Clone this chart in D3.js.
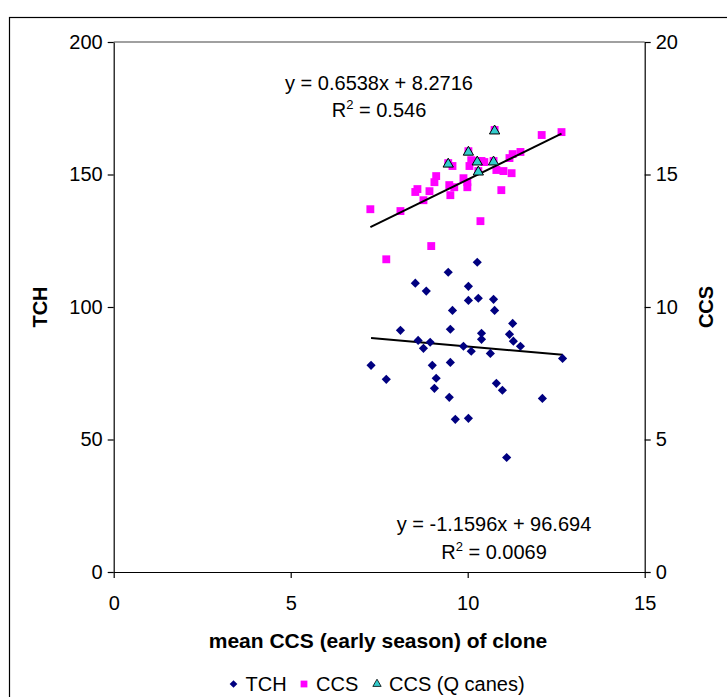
<!DOCTYPE html>
<html>
<head>
<meta charset="utf-8">
<script src="https://cdn.jsdelivr.net/npm/d3@7"></script>
<style>
  html, body { margin: 0; padding: 0; background: #fff; }
  svg { display: block; font-family: Arial, "Liberation Sans", sans-serif; }
</style>
</head>
<body>
<svg id="chart" width="727" height="697"></svg>
<script>
// Mean early-season CCS of each clone (x) against TCH (left axis) and CCS (right axis)
const tchX = [10.27, 9.45, 8.52, 8.83, 10.02, 10.02, 10.30, 10.73, 9.57, 10.76,
              11.27, 8.10, 9.51, 10.39, 10.39, 11.18, 11.29, 11.49, 8.60, 8.94,
              8.75, 9.88, 10.10, 10.64, 12.68, 7.27, 9.00, 9.51, 7.70, 9.11,
              9.06, 10.81, 10.98, 9.48, 12.11, 9.65, 10.02, 11.10];
const tchY = [116.9, 113.1, 109.0, 106.0, 107.8, 102.5, 103.3, 102.9, 98.7, 98.7,
              93.8, 91.2, 91.6, 90.1, 87.8, 89.7, 87.1, 85.2, 87.4, 86.7,
              84.4, 85.2, 83.3, 82.5, 80.6, 78.0, 78.0, 79.1, 72.7, 73.1,
              69.3, 71.2, 68.6, 65.9, 65.5, 57.6, 58.0, 43.2];

const ccsX = [7.25, 8.10, 8.58, 8.52, 8.75, 8.92, 9.11, 9.06, 9.48, 9.62,
              9.51, 9.88, 9.99, 9.99, 9.57, 10.05, 10.10, 10.39, 10.47, 10.81,
              11.01, 11.24, 10.95, 10.36, 11.27, 11.49, 11.18, 12.09, 12.65, 8.97,
              7.70, 10.02, 10.76, 9.45, 10.27, 10.30, 10.73];
const ccsY = [13.69, 13.62, 14.45, 14.34, 14.03, 14.37, 14.94, 14.71, 14.60, 14.52,
              14.22, 14.86, 14.71, 14.52, 15.32, 15.32, 15.54, 15.51, 15.47, 15.17,
              15.13, 15.05, 14.41, 13.24, 15.77, 15.85, 15.62, 16.49, 16.60, 12.30,
              11.80, 15.88, 16.68, 15.43, 15.51, 15.13, 15.51];

const qX = [9.45, 10.02, 10.27, 10.30, 10.73, 10.76];
const qY = [15.43, 15.88, 15.51, 15.13, 15.51, 16.68];

// Linear trend coefficients [slope, intercept] and their R²
const tchFit = [-1.1596, 96.694];
const tchR2 = "0.0069";
const ccsFit = [0.6538, 8.2716];
const ccsR2 = "0.546";

const xTicks = [0, 5, 10, 15];
const leftTicks = [0, 50, 100, 150, 200];
const rightTicks = [0, 5, 10, 15, 20];

const svg = d3.select("#chart");

const x = d3.scaleLinear().domain([0, 15]).range([113.7, 644.7]);
const yL = d3.scaleLinear().domain([0, 200]).range([572, 42]);
const yR = d3.scaleLinear().domain([0, 20]).range([572, 42]);

// Chart-area frame
svg.append("rect")
  .attr("x", 9.5).attr("y", 17.5)
  .attr("width", 760).attr("height", 720)
  .attr("fill", "#fff").attr("stroke", "#000").attr("stroke-width", 1.2);

// Plot-area frame (top edge)
svg.append("line")
  .attr("x1", x(0)).attr("x2", x(15))
  .attr("y1", yL(200)).attr("y2", yL(200))
  .attr("stroke", "#808080").attr("stroke-width", 1.5);

// Axes
const fontSize = 20;
const styleAxis = g => {
  g.select(".domain").attr("stroke", "#000").attr("stroke-width", 1.2);
  g.selectAll(".tick line").attr("stroke", "#000").attr("stroke-width", 1.2);
  g.selectAll(".tick text").attr("fill", "#000")
    .style("font-size", fontSize + "px")
    .style("font-family", "Arial, 'Liberation Sans', sans-serif");
};

svg.append("g")
  .attr("transform", `translate(0,${yL(0)})`)
  .call(d3.axisBottom(x).tickValues(xTicks).tickSize(6).tickSizeOuter(0).tickPadding(18))
  .call(styleAxis);

svg.append("g")
  .attr("transform", `translate(${x(0)},0)`)
  .call(d3.axisLeft(yL).tickValues(leftTicks).tickSize(6).tickSizeOuter(0).tickPadding(5))
  .call(styleAxis);

svg.append("g")
  .attr("transform", `translate(${x(15)},0)`)
  .call(d3.axisRight(yR).tickValues(rightTicks).tickSize(6).tickSizeOuter(0).tickPadding(5))
  .call(styleAxis);

// Axis titles
svg.append("text")
  .attr("x", 378).attr("y", 648)
  .attr("text-anchor", "middle")
  .style("font-size", "21px").style("font-weight", "bold")
  .text("mean CCS (early season) of clone");

svg.append("text")
  .attr("transform", `translate(47,307) rotate(-90)`)
  .attr("text-anchor", "middle")
  .style("font-size", "20px").style("font-weight", "bold")
  .text("TCH");

svg.append("text")
  .attr("transform", `translate(713,307) rotate(-90)`)
  .attr("text-anchor", "middle")
  .style("font-size", "20px").style("font-weight", "bold")
  .text("CCS");

// Trend lines over each series' x-range
const line = d3.line();
const tchExt = d3.extent(tchX);
svg.append("path")
  .attr("d", line(tchExt.map(v => [x(v), yL(tchFit[0] * v + tchFit[1])])))
  .attr("stroke", "#000").attr("stroke-width", 2).attr("fill", "none");

// Points
const diamond = d3.symbol().type(d3.symbolSquare).size(42)();
const square = d3.symbol().type(d3.symbolSquare).size(62)();
const triangle = d3.symbol().type(d3.symbolTriangle).size(46)();

svg.append("g").selectAll("path")
  .data(tchX.map((v, i) => [v, tchY[i]]))
  .join("path")
  .attr("d", diamond)
  .attr("transform", d => `translate(${x(d[0])},${yL(d[1])}) rotate(45)`)
  .attr("fill", "#000080");

svg.append("g").selectAll("path")
  .data(ccsX.map((v, i) => [v, ccsY[i]]))
  .join("path")
  .attr("d", square)
  .attr("transform", d => `translate(${x(d[0])},${yR(d[1])})`)
  .attr("fill", "#FF00FF");

const ccsExt = d3.extent(ccsX);
svg.append("path")
  .attr("d", line(ccsExt.map(v => [x(v), yR(ccsFit[0] * v + ccsFit[1])])))
  .attr("stroke", "#000").attr("stroke-width", 2).attr("fill", "none");

svg.append("g").selectAll("path")
  .data(qX.map((v, i) => [v, qY[i]]))
  .join("path")
  .attr("d", triangle)
  .attr("transform", d => `translate(${x(d[0])},${yR(d[1]) + 1})`)
  .attr("fill", "#33CCCC").attr("stroke", "#000").attr("stroke-width", 1);

// Trend-line equations, each block centred on one x
const eq = (cx, cy, fit, r2) => {
  const sign = fit[1] < 0 ? "-" : "+";
  svg.append("text")
    .attr("x", cx).attr("y", cy)
    .attr("text-anchor", "middle")
    .style("font-size", "20px")
    .text(`y = ${fit[0]}x ${sign} ${Math.abs(fit[1])}`);
  const t = svg.append("text")
    .attr("x", cx).attr("y", cy + 27.5)
    .attr("text-anchor", "middle")
    .style("font-size", "20px");
  t.append("tspan").text("R");
  t.append("tspan").attr("dy", -8).style("font-size", "13px").text("2");
  t.append("tspan").attr("dy", 8).text(` = ${r2}`);
};
eq(379, 89.5, ccsFit, ccsR2);
eq(494, 531, tchFit, tchR2);

// Legend
const legend = svg.append("g").attr("transform", "translate(0,684)");
const items = [
  { label: "TCH", sym: d3.symbol().type(d3.symbolSquare).size(30)(), rot: 45, fill: "#000080", stroke: "none" },
  { label: "CCS", sym: d3.symbol().type(d3.symbolSquare).size(46)(), rot: 0, fill: "#FF00FF", stroke: "none" },
  { label: "CCS (Q canes)", sym: d3.symbol().type(d3.symbolTriangle).size(30)(), rot: 0, fill: "#33CCCC", stroke: "#000" }
];
const itemX = [233.5, 304, 377];
items.forEach((it, i) => {
  legend.append("path")
    .attr("d", it.sym)
    .attr("transform", `translate(${itemX[i]},0) rotate(${it.rot})`)
    .attr("fill", it.fill).attr("stroke", it.stroke).attr("stroke-width", 0.8);
  legend.append("text")
    .attr("x", itemX[i] + 12).attr("y", 7)
    .style("font-size", "20px")
    .text(it.label);
});
</script>
</body>
</html>
